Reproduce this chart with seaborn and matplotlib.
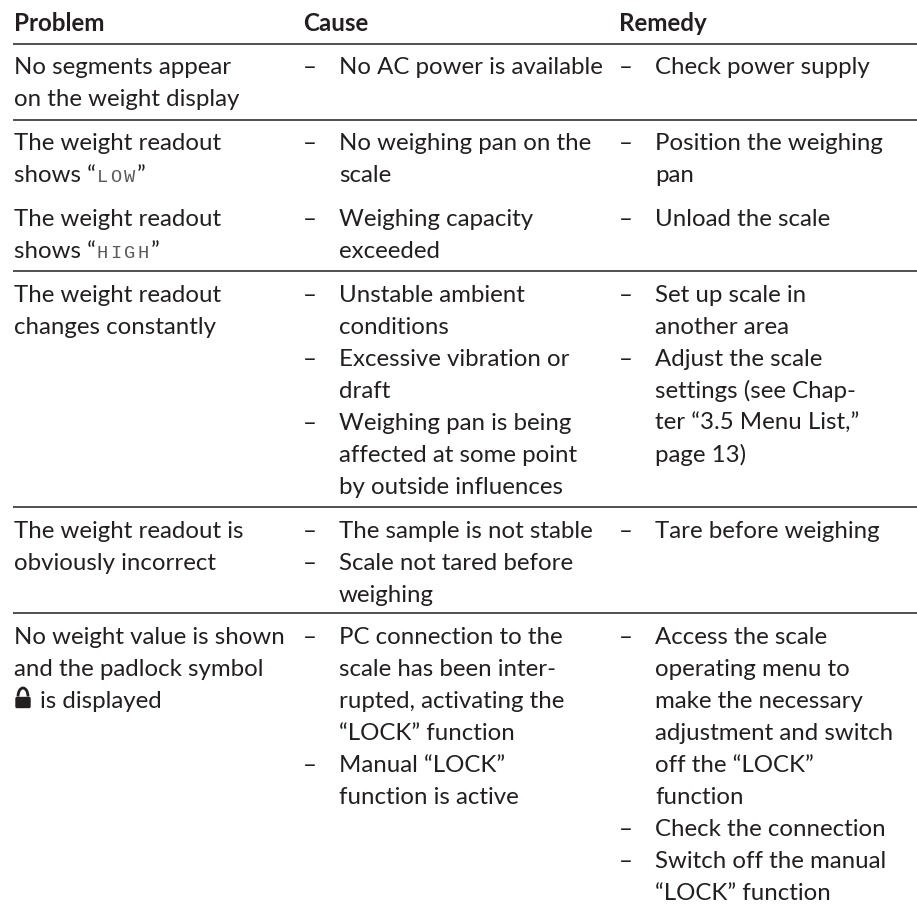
import matplotlib
matplotlib.use('Agg')
import matplotlib.pyplot as plt
from matplotlib.patches import Arc, FancyBboxPatch
import seaborn as sns

sns.set_theme(style='white')
plt.rcParams['font.family'] = ['Lato', 'DejaVu Sans']

headers = ['Problem', 'Cause', 'Remedy']

problems = [
    ['No segments appear', 'on the weight display'],
    ['The weight readout', ('shows “', 'LOW', '”')],
    ['The weight readout', ('shows “', 'HIGH', '”')],
    ['The weight readout', 'changes constantly'],
    ['The weight readout is', 'obviously incorrect'],
    ['No weight value is shown', 'and the padlock symbol', 'is displayed'],
]
causes = [
    ['– No AC power is available'],
    ['– No weighing pan on the', 'scale'],
    ['– Weighing capacity', 'exceeded'],
    ['– Unstable ambient', 'conditions', '– Excessive vibration or', 'draft',
     '– Weighing pan is being', 'affected at some point', 'by outside influences'],
    ['– The sample is not stable', '– Scale not tared before', 'weighing'],
    ['– PC connection to the', 'scale has been inter-', 'rupted, activating the',
     '“LOCK” function', '– Manual “LOCK”', 'function is active'],
]
remedies = [
    ['– Check power supply'],
    ['– Position the weighing', 'pan'],
    ['– Unload the scale'],
    ['– Set up scale in', 'another area', '– Adjust the scale', 'settings (see Chap-',
     'ter “3.5 Menu List,”', 'page 13)'],
    ['– Tare before weighing'],
    ['– Access the scale', 'operating menu to', 'make the necessary', 'adjustment and switch',
     'off the “LOCK”', 'function', '– Check the connection', '– Switch off the manual', '“LOCK” function'],
]
row_tops = [44, 120, 196, 271, 507, 613]
rule_rows = [0, 1, 3, 4, 5]

ink = '#231f20'
size = 17.3
step = 32
col_x = [14, 303, 619]
text_indent = 36
first_line = 30.5
seg_pitch = 13.4

fig, ax = plt.subplots(figsize=(9.17, 9.11), dpi=100)
fig.subplots_adjust(0, 0, 1, 1)
ax.set_xlim(0, 917)
ax.set_ylim(911, 0)
ax.axis('off')
renderer = fig.canvas.get_renderer()


def put_runs(x, y, runs):
    # quote, segment-display word (letters spaced out), quote
    t = ax.text(x, y, runs[0], fontsize=size, color=ink)
    x = ax.transData.inverted().transform(t.get_window_extent(renderer).get_points())[1, 0]
    for ch in runs[1]:
        ax.text(x + seg_pitch / 2, y, ch, fontsize=13.5, family='Liberation Mono', color='#5a5a5a', ha='center')
        x += seg_pitch
    ax.text(x + 1, y, runs[2], fontsize=size, color=ink)


for x, h in zip(col_x, headers):
    ax.text(x, 31, h, fontsize=17.4, fontweight='bold', color=ink)

for r in rule_rows:
    ax.hlines(row_tops[r], 13, 917, color=ink, lw=1.1)

for top, lines in zip(row_tops, problems):
    for i, line in enumerate(lines):
        y = top + first_line + i * step
        if isinstance(line, tuple):
            put_runs(col_x[0], y, line)
        elif line == 'is displayed':
            # padlock glyph in front of the text
            ax.add_patch(FancyBboxPatch((16, y - 10), 14, 10, boxstyle='round,pad=0,rounding_size=1', fc=ink, ec=ink, lw=1))
            ax.add_patch(Arc((23, y - 11), 10, 17, theta1=180, theta2=360, color=ink, lw=2))
            ax.text(40, y, line, fontsize=size, color=ink)
        else:
            ax.text(col_x[0], y, line, fontsize=size, color=ink)

for col, column in ((1, causes), (2, remedies)):
    for top, lines in zip(row_tops, column):
        for i, line in enumerate(lines):
            y = top + first_line + i * step
            if line.startswith('– '):
                ax.text(col_x[col], y, '–', fontsize=size, color=ink)
                line = line[2:]
            ax.text(col_x[col] + text_indent, y, line, fontsize=size, color=ink)

fig.savefig('out.png', dpi=100)
